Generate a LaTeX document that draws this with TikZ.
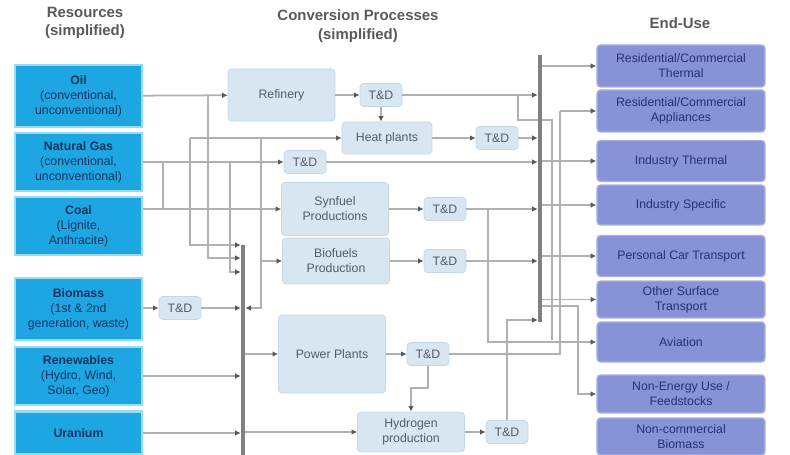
\documentclass[tikz,border=0pt]{standalone}
\usepackage{fontspec}
\setmainfont{Liberation Sans}
\usepackage{tikz}
\usetikzlibrary{positioning,arrows.meta}
\definecolor{rescyan}{RGB}{30,166,226}
\definecolor{resedge}{RGB}{150,220,246}
\definecolor{resline}{RGB}{20,120,190}
\definecolor{restext}{RGB}{14,52,98}
\definecolor{convfill}{RGB}{216,230,242}
\definecolor{convedge}{RGB}{198,215,232}
\definecolor{convtext}{RGB}{80,92,110}
\definecolor{usefill}{RGB}{136,146,214}
\definecolor{useedge}{RGB}{168,176,228}
\definecolor{usetext}{RGB}{38,50,118}
\definecolor{wiregray}{RGB}{176,176,176}
\definecolor{busgray}{RGB}{128,128,128}

\begin{document}
\begin{tikzpicture}[
    x=0.02cm, y=-0.02cm,
    box/.style={rounded corners=2pt, inner sep=1pt, align=center,
                font=\fontsize{7}{8.6}\selectfont},
    res/.style={box, rounded corners=0pt, fill=rescyan, draw=resedge, line width=1.3pt,
                text=restext, minimum width=2.54cm, minimum height=#1},
    res/.default=1.16cm,
    conv/.style={box, fill=convfill, draw=convedge, text=convtext, minimum width=2.14cm},
    td/.style={box, fill=convfill, draw=convedge, text=convtext,
               minimum width=0.84cm, minimum height=0.46cm},
    use/.style={box, fill=usefill, draw=useedge, line width=0.8pt, text=usetext,
                minimum width=3.36cm, minimum height=#1},
    use/.default=0.82cm,
    hd/.style={font=\fontsize{8.5}{10.5}\selectfont\bfseries, text=black!65, align=center},
    wire/.style={draw=wiregray, line width=1pt},
    arr/.style={wire, -{Latex[length=3.2pt,width=3.2pt,color=black!65]}},
    busin/.style={arr, shorten >=1.3pt},
    bus/.style={draw=busgray, line width=2.6pt},
]
\useasboundingbox (0,0) rectangle (790,455);

% ---------- headings ----------
\node[hd] (reshd)  at (85,23)  {Resources\\(simplified)};
\node[hd] (convhd) at (358,26) {Conversion Processes\\(simplified)};
\node[hd] (usehd)  at (680,23) {End-Use};

% ---------- resources ----------
\node[res=1.24cm] (oil)     at (78.5,96)  {\textbf{Oil}\\(conventional,\\unconventional)};
\node[res]        (gas)     at (78.5,162) {\textbf{Natural Gas}\\(conventional,\\unconventional)};
\node[res]        (coal)    at (78.5,226) {\textbf{Coal}\\(Lignite,\\Anthracite)};
\node[res=1.24cm] (biomass) at (78.5,309) {\textbf{Biomass}\\(1st \& 2nd\\generation, waste)};
\node[res]        (renew)   at (78.5,376) {\textbf{Renewables}\\(Hydro, Wind,\\Solar, Geo)};
\node[res=0.86cm] (uranium) at (78.5,433) {\textbf{Uranium}};

% ---------- conversion processes ----------
\node[conv, minimum height=1.04cm] (refinery) at (281.5,95) {Refinery};
\node[td] (tdref) at (381,95) {T\&D};
\node[conv, minimum width=1.8cm, minimum height=0.64cm] (heat) at (387,138) {Heat plants};
\node[td] (tdheat) at (497,138) {T\&D};
\node[td] (tdgas) at (305,162) {T\&D};
\node[conv, minimum height=1.06cm] (synfuel) at (335,209) {Synfuel\\Productions};
\node[td] (tdsyn) at (445,209) {T\&D};
\node[conv, minimum height=0.92cm] (biofuel) at (336,261) {Biofuels\\Production};
\node[td] (tdbio) at (445,261) {T\&D};
\node[td] (tdmass) at (180,308) {T\&D};
\node[conv, minimum height=1.56cm] (power) at (332,354) {Power Plants};
\node[td] (tdpow) at (428,354) {T\&D};
\node[conv, minimum height=0.8cm] (hydrogen) at (411,432) {Hydrogen\\production};
\node[td] (tdhyd) at (507,432) {T\&D};

% ---------- end-use ----------
\node[use=0.84cm] (rcth)     at (681,66)    {Residential/Commercial\\Thermal};
\node[use=0.84cm] (rcap)     at (681,111)   {Residential/Commercial\\Appliances};
\node[use]        (indth)    at (681,161)   {Industry Thermal};
\node[use=0.8cm]  (indsp)    at (681,205)   {Industry Specific};
\node[use]        (car)      at (681,256)   {Personal Car Transport};
\node[use=0.74cm] (surf)     at (681,299.5) {Other Surface\\Transport};
\node[use=0.8cm]  (aviation) at (681,342)   {Aviation};
\node[use=0.76cm] (feed)     at (681,394)   {Non-Energy Use /\\Feedstocks};
\node[use=0.74cm] (ncbio)    at (681,436.5) {Non-commercial\\Biomass};

% ---------- junctions and bus ends ----------
\coordinate (lbtop) at (243,245);
\coordinate (lbbot) at (243,455);
\coordinate (rbtop) at (540,55);
\coordinate (rbbot) at (540,322);
\coordinate (joil)  at (208,95);
\coordinate (jheat) at (190,138);
\coordinate (jmid)  at (261,138);
\coordinate (jgas)  at (163,162);
\coordinate (jgas2) at (230,162);
\coordinate (lb2)   at (243,258);
\coordinate (lb3)   at (243,272);
\coordinate (jref)  at (518,95);
\coordinate (jref2) at (552,120);
\coordinate (jref3) at (552,340);
\coordinate (jpow)  at (560,111);
\coordinate (jsyn)  at (488,209);
\coordinate (rbhyd) at (540,320);
\coordinate (jfeed) at (540,306);
\coordinate (kfeed) at (578,306);

% ---------- resources into conversion ----------
\draw[arr] (oil) -- (refinery);
\draw[busin] (joil) |- (lb2);
\draw[arr] (jheat) -- (heat);
\draw[busin] (jheat) |- (lbtop);
\draw[wire] (jheat) -- (jmid);
\draw[busin] (jmid) |- (tdmass -| lbtop);
\draw[arr] (jmid |- biofuel) -- (biofuel);
\draw[arr] (gas) -- (tdgas);
\draw[wire] (jgas) -- (jgas |- synfuel);
\draw[busin] (jgas2) |- (lb3);
\draw[arr] (coal.east |- synfuel) -- (synfuel);
\draw[arr] (biomass.east |- tdmass) -- (tdmass);
\draw[busin] (tdmass) -- (tdmass -| lbtop);
\draw[busin] (renew) -- (renew -| lbtop);
\draw[busin] (uranium) -- (uranium -| lbtop);
\draw[arr] (lbtop |- power) -- (power);
\draw[arr] (lbtop |- hydrogen) -- (hydrogen);

% ---------- conversion chains ----------
\draw[arr] (refinery) -- (tdref);
\draw[busin] (tdref) -- (tdref -| rbtop);
\draw[arr] (tdref.south) -- (tdref.south |- heat.north);
\draw[arr] (heat) -- (tdheat);
\draw[busin] (tdheat) -- (tdheat -| rbtop);
\draw[busin] (tdgas) -- (tdgas -| rbtop);
\draw[arr] (synfuel) -- (tdsyn);
\draw[busin] (tdsyn) -- (tdsyn -| rbtop);
\draw[arr] (biofuel) -- (tdbio);
\draw[busin] (tdbio) -- (tdbio -| rbtop);
\draw[arr] (power) -- (tdpow);
\draw[wire] (tdpow) -| (jpow);
\draw[arr] (tdpow.south) -- ++(0,22) -| (hydrogen.north);
\draw[arr] (hydrogen) -- (tdhyd);
\draw[busin] (tdhyd.north) |- (rbhyd);

% ---------- distribution to end-use ----------
\draw[wire] (jref) |- (jref2) -- (jref3);
\draw[arr] (rbtop |- rcth) -- (rcth);
\draw[arr] (jpow) -- (rcap);
\draw[arr] (rbtop |- indth) -- (indth);
\draw[arr] (rbtop |- indsp) -- (indsp);
\draw[arr] (rbtop |- car) -- (car);
\draw[arr] (rbtop |- surf) -- (surf);
\draw[arr] (jsyn) |- (aviation);
\draw[arr] (jfeed) -- (kfeed) |- (feed);

% ---------- buses ----------
\draw[bus] (lbtop) -- (lbbot);
\draw[bus] (rbtop) -- (rbbot);

\end{tikzpicture}
\end{document}
